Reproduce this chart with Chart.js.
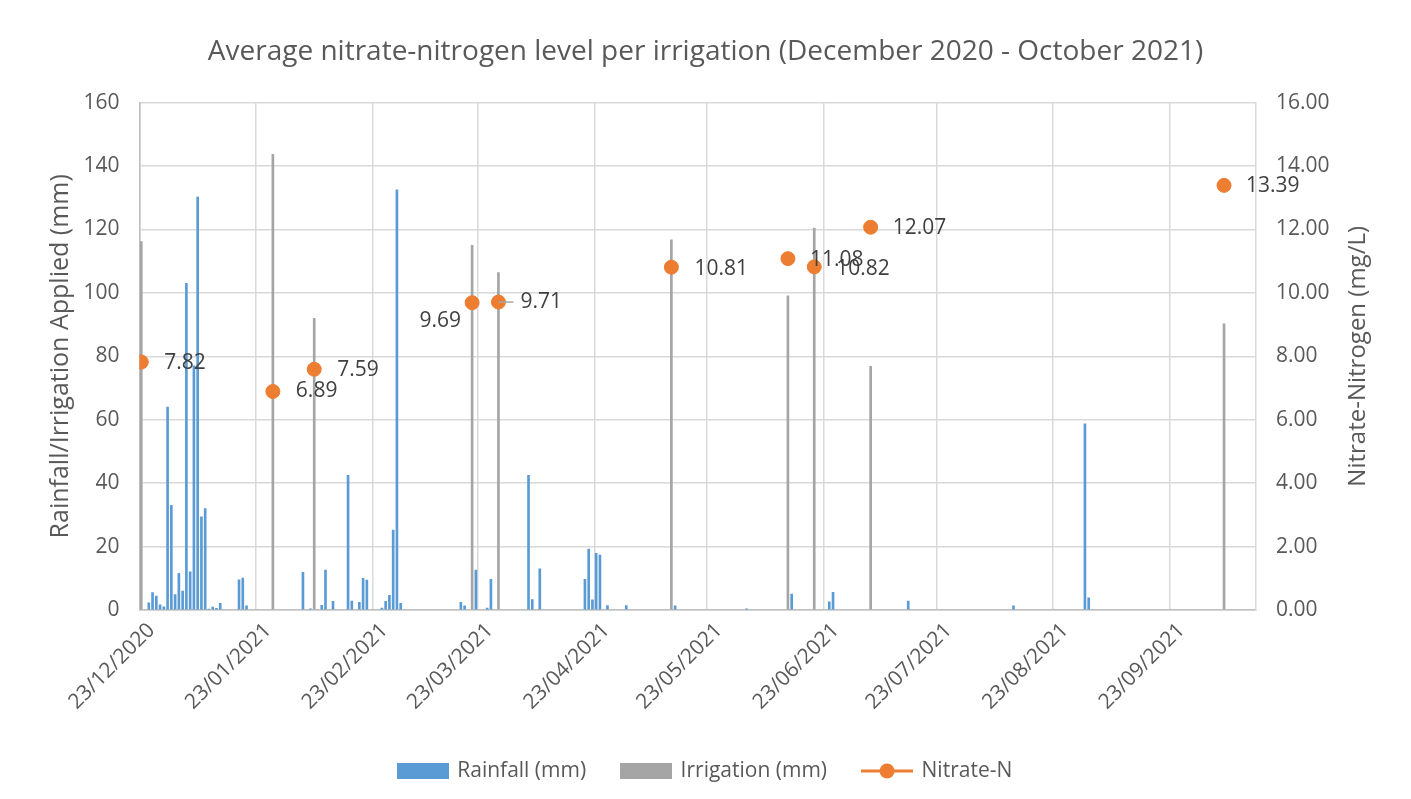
<!DOCTYPE html>
<html>
<head>
<meta charset="utf-8">
<script src="https://cdn.jsdelivr.net/npm/chart.js@4.4.0/dist/chart.umd.min.js"></script>
<style>
  html, body { margin: 0; padding: 0; background: #fff; }
  #wrap { width: 1411px; height: 799px; }
</style>
</head>
<body>
<div id="wrap"><canvas id="chart"></canvas></div>
<script>
// first and last day of the date axis
const startDate = '2020-12-23';
const endDate = '2021-10-15';

// monthly tick marks on the date axis
const tickDates = ['2020-12-23', '2021-01-23', '2021-02-23', '2021-03-23', '2021-04-23',
  '2021-05-23', '2021-06-23', '2021-07-23', '2021-08-23', '2021-09-23'];

// daily rainfall (mm)
const rainDates = [
  '2020-12-25', '2020-12-26', '2020-12-27', '2020-12-28', '2020-12-29', '2020-12-30', '2020-12-31',
  '2021-01-01', '2021-01-02', '2021-01-03', '2021-01-04', '2021-01-05', '2021-01-06', '2021-01-07',
  '2021-01-08', '2021-01-09', '2021-01-10', '2021-01-11', '2021-01-12', '2021-01-13', '2021-01-18',
  '2021-01-19', '2021-01-20', '2021-02-04', '2021-02-06', '2021-02-09', '2021-02-10', '2021-02-12',
  '2021-02-16', '2021-02-17', '2021-02-19', '2021-02-20', '2021-02-21', '2021-02-25', '2021-02-26',
  '2021-02-27', '2021-02-28', '2021-03-01', '2021-03-02', '2021-03-18', '2021-03-19', '2021-03-22',
  '2021-03-25', '2021-03-26', '2021-04-05', '2021-04-06', '2021-04-08', '2021-04-20', '2021-04-21',
  '2021-04-22', '2021-04-23', '2021-04-24', '2021-04-26', '2021-05-01', '2021-05-14', '2021-06-02',
  '2021-06-14', '2021-06-24', '2021-06-25', '2021-07-15', '2021-08-12', '2021-08-31', '2021-09-01'
];
const rainMm = [
  2.3, 5.5, 4.4, 1.6, 1.0, 64, 33,
  4.9, 11.6, 6.0, 103, 12, 77, 130.2,
  29.4, 32, 0.3, 0.9, 0.5, 2.1, 9.5,
  10.1, 1.3, 11.9, 0.4, 1.5, 12.6, 2.7,
  42.5, 2.8, 2.4, 10.0, 9.4, 0.6, 2.7,
  4.6, 25.2, 132.5, 2.1, 2.4, 1.3, 12.6,
  0.6, 9.7, 42.5, 3.3, 13.0, 9.7, 19.2,
  3.2, 17.9, 17.3, 1.4, 1.4, 1.3, 0.4,
  5.0, 2.6, 5.6, 2.8, 1.3, 58.7, 3.8
];

// irrigation events (mm) and the nitrate-N measured at each one (mg/L)
const irrigationDates = ['2020-12-23', '2021-01-27', '2021-02-07', '2021-03-21', '2021-03-28',
  '2021-05-13', '2021-06-13', '2021-06-20', '2021-07-05', '2021-10-07'];
const irrigationMm = [116.2, 143.7, 92, 115, 106.4, 116.7, 99.1, 120.4, 76.8, 90.2];
const nitrateN = [7.82, 6.89, 7.59, 9.69, 9.71, 10.81, 11.08, 10.82, 12.07, 13.39];

// where each value label sits next to its point
const labelSpots = [
  {dx: 23, dy: 1}, {dx: 23, dy: 0}, {dx: 23, dy: 1}, {dx: -11, dy: 18, align: 'right'},
  {dx: 22, dy: 0, leader: true}, {dx: 23, dy: 2}, {dx: 22, dy: 1}, {dx: 22, dy: 2},
  {dx: 22, dy: 1}, {dx: 22, dy: 1}
];

const FONT = "'Open Sans', sans-serif";
const TEXT = '#595959';
const BLUE = '#5B9BD5';
const GREY = '#A5A5A5';
const ORANGE = '#ED7D31';

const dayIndex = s => Math.round((Date.parse(s) - Date.parse(startDate)) / 86400000);
const fmtDate = s => s.split('-').reverse().join('/');

const rainData = rainDates.map((d, i) => ({x: dayIndex(d), y: rainMm[i]}));
const irrigationData = irrigationDates.map((d, i) => ({x: dayIndex(d), y: irrigationMm[i]}));
const nitrateData = irrigationDates.map((d, i) => ({x: dayIndex(d), y: nitrateN[i]}));

function makeIcon(draw) {
  const c = document.createElement('canvas');
  c.width = 52;
  c.height = 16;
  draw(c.getContext('2d'));
  return c;
}
const legendIcons = [
  makeIcon(g => { g.fillStyle = BLUE; g.fillRect(0, 0, 52, 16); }),
  makeIcon(g => { g.fillStyle = GREY; g.fillRect(0, 0, 52, 16); }),
  makeIcon(g => {
    g.strokeStyle = ORANGE; g.lineWidth = 3;
    g.beginPath(); g.moveTo(0, 8); g.lineTo(52, 8); g.stroke();
    g.fillStyle = ORANGE;
    g.beginPath(); g.arc(26, 8, 7.5, 0, Math.PI * 2); g.fill();
  })
];

// value labels for the nitrate points plus the right-hand axis title
const extras = {
  id: 'extras',
  afterDatasetsDraw(chart) {
    const ctx = chart.ctx;
    const pts = chart.getDatasetMeta(2).data;
    ctx.save();
    ctx.font = `21px ${FONT}`;
    ctx.fillStyle = '#404040';
    ctx.textBaseline = 'middle';
    pts.forEach((p, i) => {
      const spot = labelSpots[i];
      if (spot.leader) {
        ctx.strokeStyle = '#A6A6A6';
        ctx.lineWidth = 1.5;
        ctx.beginPath();
        ctx.moveTo(p.x, p.y);
        ctx.lineTo(p.x + spot.dx - 7, p.y + spot.dy);
        ctx.stroke();
      }
      ctx.textAlign = spot.align || 'left';
      ctx.fillText(nitrateN[i].toFixed(2), p.x + spot.dx, p.y + spot.dy);
    });
    ctx.restore();
  },
  afterDraw(chart) {
    const ctx = chart.ctx;
    const area = chart.chartArea;
    ctx.save();
    ctx.translate(chart.width - 53, (area.top + area.bottom) / 2);
    ctx.rotate(-Math.PI / 2);
    ctx.font = `24px ${FONT}`;
    ctx.fillStyle = TEXT;
    ctx.textAlign = 'center';
    ctx.textBaseline = 'middle';
    ctx.fillText('Nitrate-Nitrogen (mg/L)', 0, 0);
    ctx.restore();
  }
};

Chart.defaults.font.family = FONT;
Chart.defaults.color = TEXT;

new Chart(document.getElementById('chart'), {
  type: 'bar',
  data: {
    datasets: [{
      label: 'Rainfall (mm)',
      data: rainData,
      backgroundColor: BLUE,
      barThickness: 2,
      grouped: false,
      yAxisID: 'y'
    }, {
      label: 'Irrigation (mm)',
      data: irrigationData,
      backgroundColor: GREY,
      barThickness: 2,
      grouped: false,
      yAxisID: 'y'
    }, {
      type: 'line',
      label: 'Nitrate-N',
      data: nitrateData,
      showLine: false,
      backgroundColor: ORANGE,
      borderColor: ORANGE,
      pointRadius: 7,
      pointBorderWidth: 1,
      order: -1,
      yAxisID: 'y1'
    }]
  },
  options: {
    responsive: true,
    maintainAspectRatio: false,
    animation: false,
    events: [],
    layout: {padding: {left: 0, right: 0, top: 0, bottom: 7.5}},
    scales: {
      x: {
        type: 'linear',
        offset: false,
        min: -0.5,
        max: dayIndex(endDate) + 0.5,
        afterBuildTicks: s => { s.ticks = tickDates.map(d => ({value: dayIndex(d) - 0.5})); },
        afterFit: s => { s.height = 114.5; },
        ticks: {
          autoSkip: false,
          maxRotation: 45,
          minRotation: 45,
          padding: 8,
          labelOffset: 12,
          font: {size: 21},
          callback: (v, i) => fmtDate(tickDates[i])
        },
        grid: {color: '#D9D9D9', lineWidth: 1.5, drawTicks: false, offset: false},
        border: {color: '#BFBFBF', width: 1.5}
      },
      y: {
        position: 'left',
        min: 0,
        max: 160,
        afterFit: s => { s.width = 139.4; },
        ticks: {stepSize: 20, padding: 20, font: {size: 21}},
        grid: {color: '#D9D9D9', lineWidth: 1.5, drawTicks: false},
        border: {color: '#BFBFBF', width: 1.5},
        title: {
          display: true,
          text: 'Rainfall/Irrigation Applied (mm)',
          font: {size: 25},
          padding: {top: 46}
        }
      },
      y1: {
        position: 'right',
        min: 0,
        max: 16,
        afterFit: s => { s.width = 155; },
        ticks: {stepSize: 2, padding: 20, font: {size: 21}, callback: v => v.toFixed(2)},
        grid: {drawOnChartArea: false, drawTicks: false},
        border: {color: '#D9D9D9', width: 1.5}
      }
    },
    plugins: {
      title: {
        display: true,
        text: 'Average nitrate-nitrogen level per irrigation (December 2020 - October 2021)',
        color: TEXT,
        font: {size: 28, weight: 'normal'},
        padding: {top: 35, bottom: 34}
      },
      legend: {
        position: 'bottom',
        labels: {
          usePointStyle: true,
          pointStyleWidth: 48,
          padding: 36,
          font: {size: 21},
          color: TEXT,
          sort: (a, b) => a.datasetIndex - b.datasetIndex,
          generateLabels: chart => Chart.defaults.plugins.legend.labels.generateLabels(chart)
            .map(item => ({...item, pointStyle: legendIcons[item.datasetIndex]}))
        }
      },
      tooltip: {enabled: false}
    }
  },
  plugins: [extras]
});
</script>
</body>
</html>
